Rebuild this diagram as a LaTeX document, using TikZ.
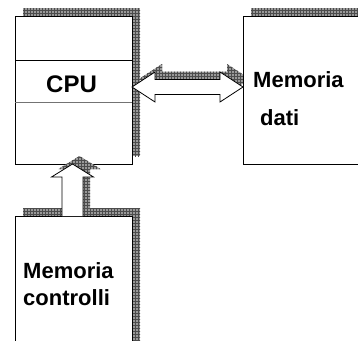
\documentclass[tikz,border=0pt]{standalone}
\usepackage{fontspec}
\setmainfont{Liberation Sans}
\usetikzlibrary{calc,patterns}
\begin{document}
\begin{tikzpicture}[x=1pt,y=-1pt,
  box/.style={draw=black, line width=0.9pt, fill=white, minimum width=117pt, minimum height=148pt, inner sep=0pt, outer sep=0pt},
  shade/.style={fill=black!40, postaction={pattern=grid, pattern color=black!70}},
  arrowbody/.style={draw=black, line width=0.8pt, fill=white, line join=miter},
  lbl/.style={anchor=base west, inner sep=0pt, font=\fontsize{22}{26}\selectfont\bfseries}
]
\clip (0,0) rectangle (358,340);
\fill[white] (0,0) rectangle (358,340);
% arrow anchor coordinates
\coordinate (ay) at (0,87);
\coordinate (L) at (132,87);
\coordinate (R) at (243,87);
\coordinate (Ls) at ($(L)+(7,-8)$);
\coordinate (Rs) at ($(R)+(7,-8)$);
\def\harrow#1#2{(#1) -- ($(#1)+(23,-15)$) -- ($(#1)+(23,-7.5)$) -- ($(#2)+(-23,-7.5)$) -- ($(#2)+(-23,-15)$) -- (#2) -- ($(#2)+(-23,15)$) -- ($(#2)+(-23,7.5)$) -- ($(#1)+(23,7.5)$) -- ($(#1)+(23,15)$) -- cycle}
% shadow of the double arrow (lies under the boxes)
\fill[shade] \harrow{Ls}{Rs};
% shadows of boxes
\fill[shade] (23,8) rectangle (140,156);
\fill[shade] (251,8) rectangle (400,156);
\fill[shade] (23,208) rectangle (140,360);
% boxes
\node[box] (cpu) at (73.5,90) {};
\node[box, minimum width=130pt] (md) at (308,90) {};
\node[box, minimum height=140pt] (mc) at (73.5,286) {};
\draw[line width=0.9pt] (cpu.west |- 0,60) coordinate (c1) -- (cpu.east |- c1);
\draw[line width=0.9pt, black!55] (cpu.west |- 0,102) coordinate (c2) -- (cpu.east |- c2);
% texts
\node[lbl, font=\fontsize{24}{28}\selectfont\bfseries] (cputxt) at (46,92) {CPU};
\node[lbl] (md1) at (253,87) {Memoria};
\node[lbl] (md2) at (260,125) {dati};
\node[lbl] (mc1) at (23,278) {Memoria};
\node[lbl] (mc2) at (23,305) {controlli};
% double arrow between CPU and Memoria dati
\draw[arrowbody] \harrow{L}{R};
% vertical arrow from Memoria controlli to CPU
\coordinate (T) at ($(cpu.south)+(-1,0)$);
\coordinate (B) at ($(mc.north)+(-1,0)$);
\coordinate (Ts) at ($(T)+(7,-8)$);
\coordinate (Bs) at ($(B)+(7,-8)$);
\def\varrow#1#2{(#1) -- ($(#1)+(21,13)$) -- ($(#1)+(10.5,13)$) -- ($(#2)+(10.5,0)$) -- ($(#2)+(-10.5,0)$) -- ($(#1)+(-10.5,13)$) -- ($(#1)+(-21,13)$) -- cycle}
\fill[shade] \varrow{Ts}{Bs};
\fill[white] \varrow{T}{B};
\draw[arrowbody, fill=none] ($(B)+(-10.5,0)$) -- ($(T)+(-10.5,13)$) -- ($(T)+(-21,13)$) -- (T) -- ($(T)+(21,13)$) -- ($(T)+(10.5,13)$) -- ($(B)+(10.5,0)$);
\end{tikzpicture}
\end{document}
